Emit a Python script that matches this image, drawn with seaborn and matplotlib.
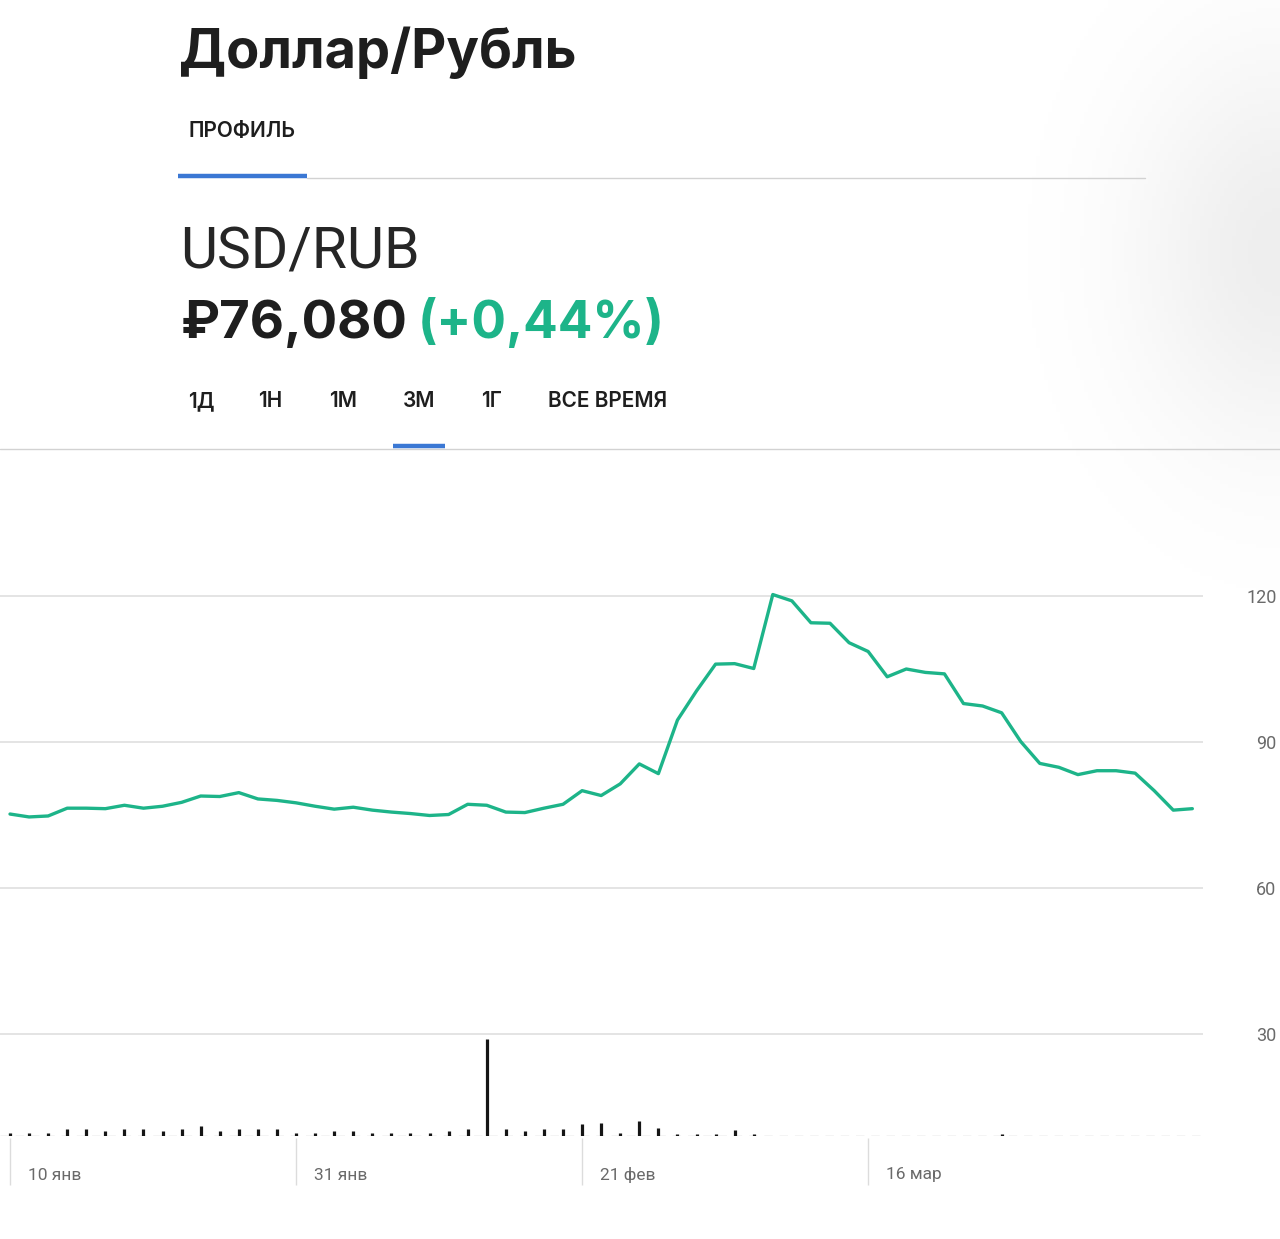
"""
USD/RUB 3-month chart card: header, price line and volume sticks
"""

import numpy as np
import matplotlib
matplotlib.use("Agg")
import matplotlib.pyplot as plt
from matplotlib.lines import Line2D
import seaborn as sns

# --- data -------------------------------------------------------------
# one point per trading day, starting 10 Jan
price = [75.2, 74.6, 74.8, 76.4, 76.4, 76.3, 77.0, 76.4, 76.8, 77.6,
         78.9, 78.8, 79.6, 78.3, 78.0, 77.5, 76.8, 76.2, 76.6, 76.0,
         75.6, 75.3, 74.9, 75.1, 77.2, 77.0, 75.6, 75.5, 76.4, 77.2,
         80.0, 79.0, 81.4, 85.5, 83.5, 94.5, 100.5, 106.0, 106.1, 105.1,
         120.3, 119.0, 114.5, 114.4, 110.4, 108.6, 103.4, 105.0, 104.3, 104.0,
         97.9, 97.4, 96.0, 90.1, 85.6, 84.8, 83.3, 84.1, 84.1, 83.6,
         80.0, 76.0, 76.3]

volume = [3, 3, 3, 7, 7, 5, 7, 7, 5, 7,
          10, 5, 7, 7, 7, 3, 3, 5, 5, 3,
          3, 3, 3, 5, 7, 97, 7, 5, 7, 7,
          12, 13, 3, 15, 8, 2, 2, 2, 6, 2,
          0, 0, 0, 0, 0, 0, 0, 0, 0, 0,
          0, 0, 2, 0, 0, 0, 0, 0, 0, 0,
          0, 0, 0]

x_ticks = [0, 15, 30, 45]
x_labels = ["10 янв", "31 янв", "21 фев", "16 мар"]
y_ticks = [30, 60, 90, 120]

tabs = ["1Д", "1Н", "1М", "3М", "1Г", "ВСЕ ВРЕМЯ"]
tab_x = [188, 258, 329, 403, 481, 548]

W, H = 1280, 1239
GREEN = "#1db489"
BLUE = "#3b78d4"
DARK = "#1e1e1e"
GRAY_TXT = "#6a6a6a"

sns.set_style("white")
plt.rcParams["font.family"] = ["Inter", "Roboto", "DejaVu Sans"]

fig = plt.figure(figsize=(W / 100, H / 100), dpi=100)


def fx(x):
    return x / W


def fy(y):
    return 1 - y / H


# soft shadow in the top-right corner
bg = fig.add_axes([0, 0, 1, 1], zorder=-5)
gx, gy = np.meshgrid(np.arange(0, W, 4), np.arange(0, H, 4))
alpha = 0.07 * np.exp(-((W - gx) / 150.0) ** 2) * np.exp(-((gy - 250) / 200.0) ** 2)
shade = np.zeros(gx.shape + (4,))
shade[..., 3] = alpha
bg.imshow(shade, extent=[0, W, H, 0], aspect="auto")
bg.set_xlim(0, W)
bg.set_ylim(H, 0)
bg.axis("off")

# --- header -----------------------------------------------------------
fig.text(fx(179), fy(68), "Доллар/Рубль", fontsize=39, fontweight="bold",
         color=DARK, va="baseline", ha="left")
fig.text(fx(189), fy(137), "ПРОФИЛЬ", fontsize=15, fontweight="semibold",
         color=DARK, va="baseline", ha="left")
fig.add_artist(Line2D([fx(307), fx(1145)], [fy(178), fy(178)],
                      color="#d2d2d2", lw=1.0, transform=fig.transFigure))
fig.add_artist(Line2D([fx(178), fx(307)], [fy(176), fy(176)],
                      color=BLUE, lw=3.2, solid_capstyle="butt",
                      transform=fig.transFigure))

fig.text(fx(180), fy(268), "USD/RUB", fontsize=41, fontweight="normal",
         family=["Roboto", "DejaVu Sans"], color="#262626", va="baseline",
         ha="left")
fig.text(fx(181), fy(338), "₽76,080", fontsize=38, fontweight="bold",
         family=["Inter", "DejaVu Sans"], color=DARK, va="baseline", ha="left")
fig.text(fx(418), fy(338), "(+0,44%)", fontsize=37, fontweight="bold",
         family=["Inter", "DejaVu Sans"], color=GREEN, va="baseline", ha="left")

for label, x in zip(tabs, tab_x):
    fig.text(fx(x), fy(407), label, fontsize=15, fontweight="semibold",
             color=DARK, va="baseline", ha="left")
fig.add_artist(Line2D([0, 1], [fy(449), fy(449)], color="#d2d2d2", lw=1.0,
                      transform=fig.transFigure))
fig.add_artist(Line2D([fx(393), fx(445)], [fy(446), fy(446)], color=BLUE,
                      lw=3.2, solid_capstyle="butt", transform=fig.transFigure))

# --- price chart ------------------------------------------------------
px_per_day = 19.07
x0 = 10
xlim = (-x0 / px_per_day, (1203 - x0) / px_per_day)
top_px, base_px = 460, 1136
val_per_px = 30 / 146.0
ylim = (120 - (base_px - 596) * val_per_px, 120 + (596 - top_px) * val_per_px)

ax = fig.add_axes([0, fy(base_px), fx(1203), (base_px - top_px) / H])
days = np.arange(len(price))
sns.lineplot(x=days, y=price, ax=ax, color=GREEN, linewidth=2.4)
for ln in ax.get_lines():
    ln.set_solid_joinstyle("round")
    ln.set_solid_capstyle("round")
ax.set_xlim(*xlim)
ax.set_ylim(*ylim)
ax.set_yticks(y_ticks)
ax.set_xticks([])
ax.yaxis.tick_right()
ax.tick_params(axis="y", length=0, pad=53, labelsize=13, labelcolor=GRAY_TXT)
for lab in ax.get_yticklabels():
    lab.set_horizontalalignment("right")
    lab.set_family(["Roboto", "DejaVu Sans"])
ax.grid(axis="y", color="#e2e2e2", linewidth=1.3)
ax.set_axisbelow(True)
for s in ax.spines.values():
    s.set_visible(False)
ax.set_xlabel("")
ax.set_ylabel("")
ax.patch.set_alpha(0)

# --- volume -----------------------------------------------------------
vol_h = 110
axv = fig.add_axes([0, fy(base_px), fx(1203), vol_h / H])
axv.set_xlim(*xlim)
axv.set_ylim(0, vol_h)
axv.axhline(0, color="#c8c8c8", lw=1.0, ls=(0, (6, 5)))
vol = np.array(volume, dtype=float)
mask = vol > 0
axv.vlines(days[mask], 0, vol[mask], color="#151515", lw=2.3,
           capstyle="butt")
axv.vlines(x_ticks, -2, -49, color="#dcdcdc", lw=1.0, clip_on=False)
for t, lab in zip(x_ticks, x_labels):
    axv.text(t + 18 / px_per_day, -39, lab, ha="left", va="center",
             fontsize=12.5, color=GRAY_TXT, family=["Roboto", "DejaVu Sans"],
             clip_on=False)
axv.axis("off")

fig.savefig("out.png", dpi=100)
